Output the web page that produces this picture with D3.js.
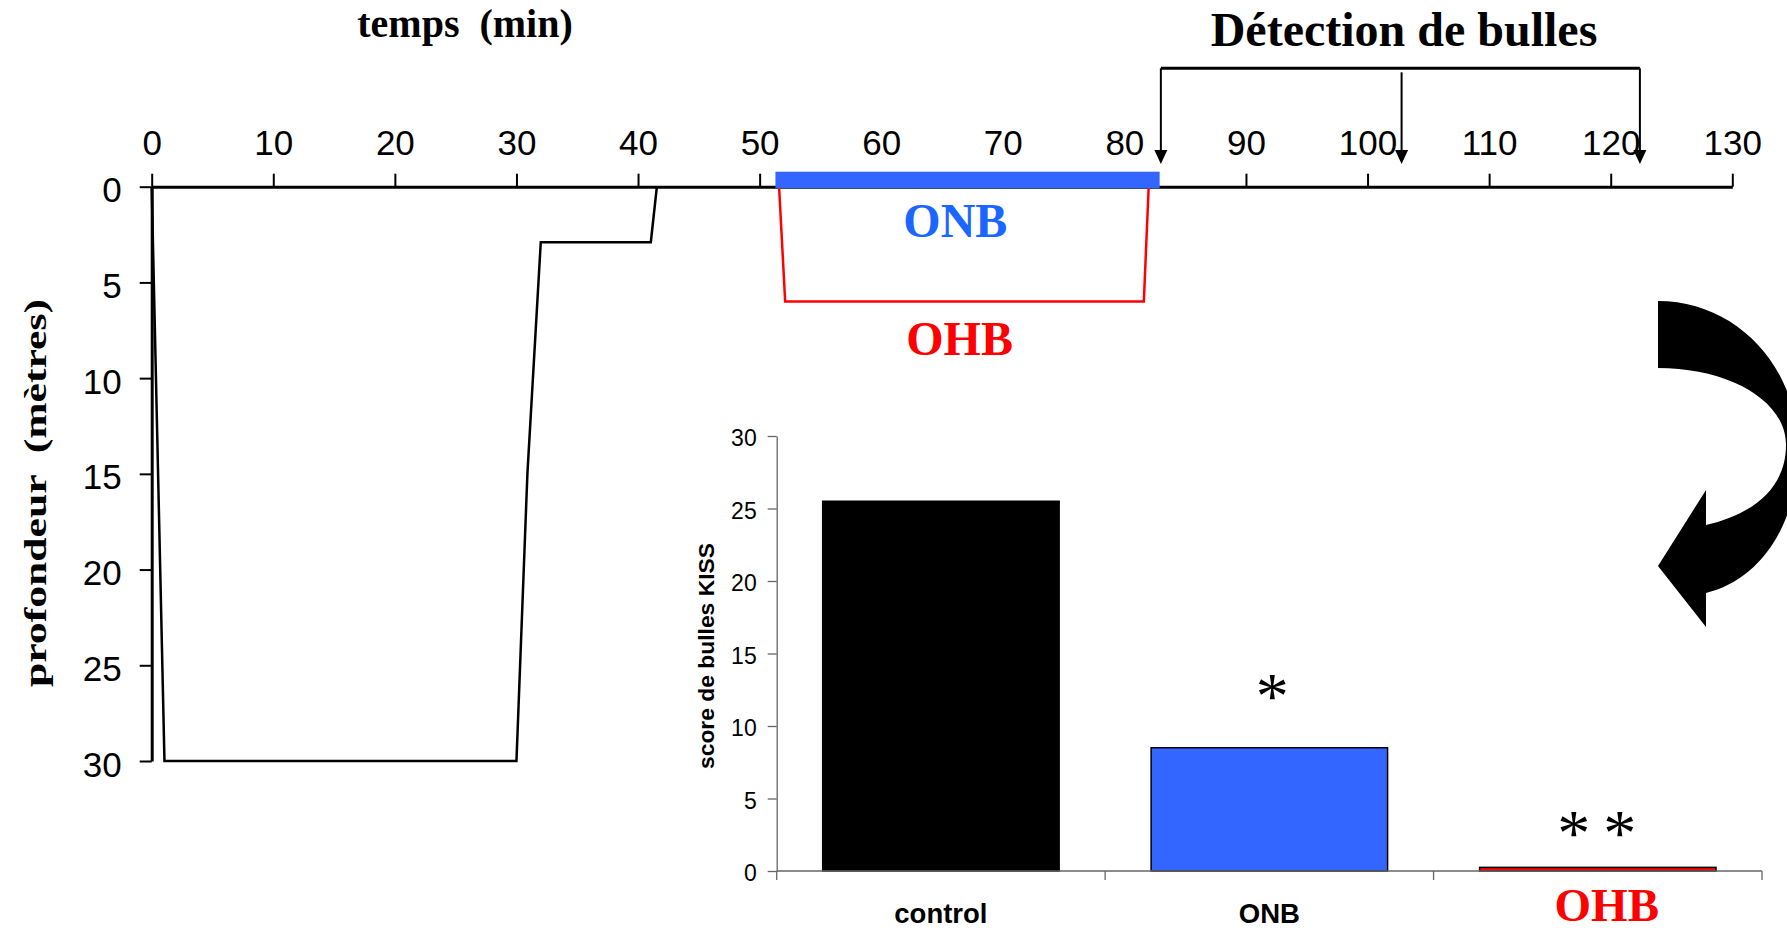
<!DOCTYPE html>
<html>
<head>
<meta charset="utf-8">
<script src="https://cdn.jsdelivr.net/npm/d3@7"></script>
<style>
  body { margin: 0; background: #fff; overflow: hidden; }
  svg { display: block; }
  .sans { font-family: "Liberation Sans", Arial, sans-serif; }
  .serif { font-family: "Liberation Serif", "Times New Roman", serif; font-weight: bold; }
</style>
</head>
<body>
<div id="chart"></div>
<script>
// profil de plongée : temps (min) / profondeur (m)
const diveTime = [0, 1.05, 30, 30.9, 32, 41.05, 41.55];
const diveDepth = [0, 30, 30, 15, 2.9, 2.9, 0];

// oxygène hyperbare (OHB) : profil en caisson
const ohbTime = [51.6, 52.1, 81.6, 82.0];
const ohbDepth = [0, 6, 6, 0];

// oxygène normobare (ONB) : période en surface
const onbPeriod = [51.3, 82.9];

// moments de détection de bulles
const detectionTimes = [83, 102.8, 122.4];

const timeTicks = [0, 10, 20, 30, 40, 50, 60, 70, 80, 90, 100, 110, 120, 130];
const depthTicks = [0, 5, 10, 15, 20, 25, 30];

// score de bulles KISS
const groups = ["control", "ONB", "OHB"];
const kissScore = [25.5, 8.5, 0.25];
const starCount = [0, 1, 2];
const starLevel = [null, 12.8, 3.4];
const scoreTicks = [0, 5, 10, 15, 20, 25, 30];

const width = 1787;
const height = 932;

const svg = d3.select("#chart").append("svg")
  .attr("width", width)
  .attr("height", height);

// ---------- profil de plongée ----------
const x = d3.scaleLinear().domain([0, 130]).range([151.7, 1732.3]);
const y = d3.scaleLinear().domain([0, 30]).range([186.7, 761]);

const xAxis = svg.append("g")
  .attr("class", "sans")
  .attr("transform", `translate(0,${y(0)})`)
  .call(d3.axisTop(x).tickValues(timeTicks).tickSize(13).tickSizeOuter(0).tickPadding(19));

const yAxis = svg.append("g")
  .attr("class", "sans")
  .attr("transform", `translate(${x(0)},0)`)
  .call(d3.axisLeft(y).tickValues(depthTicks).tickSize(12).tickSizeOuter(0).tickPadding(18));

[xAxis, yAxis].forEach((g) => {
  g.select(".domain").attr("stroke", "#000").attr("stroke-width", 3);
  g.selectAll(".tick line").attr("stroke", "#000").attr("stroke-width", 2);
  g.selectAll(".tick text")
    .attr("fill", "#000")
    .style("font-family", "'Liberation Sans', Arial, sans-serif")
    .style("font-size", "35px");
});
yAxis.selectAll(".tick text").attr("dy", "0.43em");

const line = d3.line()
  .x((d) => x(d[0]))
  .y((d) => y(d[1]));

svg.append("path")
  .datum(d3.zip(diveTime, diveDepth))
  .attr("d", line)
  .attr("fill", "none")
  .attr("stroke", "#000")
  .attr("stroke-width", 2.5)
  .attr("stroke-linejoin", "miter");

svg.append("path")
  .datum(d3.zip(ohbTime, ohbDepth))
  .attr("d", line)
  .attr("fill", "none")
  .attr("stroke", "#FF0000")
  .attr("stroke-width", 2.5);

svg.append("rect")
  .attr("x", x(onbPeriod[0]))
  .attr("y", y(0) - 15)
  .attr("width", x(onbPeriod[1]) - x(onbPeriod[0]))
  .attr("height", 16.6)
  .attr("fill", "#3366FF");

svg.append("text")
  .attr("class", "serif")
  .attr("x", x(66.1))
  .attr("y", 237)
  .attr("text-anchor", "middle")
  .style("font-size", "48px")
  .attr("fill", "#1a66ff")
  .text("ONB");

svg.append("text")
  .attr("class", "serif")
  .attr("x", x(66.45))
  .attr("y", 355)
  .attr("text-anchor", "middle")
  .style("font-size", "48px")
  .attr("fill", "#FF0000")
  .text("OHB");

// titres
svg.append("text")
  .attr("class", "serif")
  .attr("x", 465)
  .attr("y", 37)
  .attr("text-anchor", "middle")
  .style("font-size", "40px")
  .style("white-space", "pre")
  .text("temps  (min)");

svg.append("text")
  .attr("class", "serif")
  .attr("transform", "translate(45.5,493) rotate(-90)")
  .attr("text-anchor", "middle")
  .style("font-size", "32px")
  .style("white-space", "pre")
  .attr("textLength", 388)
  .attr("lengthAdjust", "spacingAndGlyphs")
  .text("profondeur  (mètres)");

svg.append("text")
  .attr("class", "serif")
  .attr("x", 1404)
  .attr("y", 46)
  .attr("text-anchor", "middle")
  .style("font-size", "48px")
  .text("Détection de bulles");

// accolade de détection + flèches
const bracketY = 68.3;
const tipY = 164;
const headLen = 14;

svg.append("line")
  .attr("x1", x(detectionTimes[0]))
  .attr("x2", x(detectionTimes[detectionTimes.length - 1]))
  .attr("y1", bracketY)
  .attr("y2", bracketY)
  .attr("stroke", "#000")
  .attr("stroke-width", 3);

const arrows = svg.append("g").selectAll("g")
  .data(detectionTimes)
  .join("g");

arrows.append("line")
  .attr("x1", (d) => x(d))
  .attr("x2", (d) => x(d))
  .attr("y1", (d, i) => (i === 1 ? bracketY + 4 : bracketY))
  .attr("y2", tipY - headLen + 1)
  .attr("stroke", "#000")
  .attr("stroke-width", 2);

arrows.append("path")
  .attr("d", (d) => `M${x(d) - 6.5},${tipY - headLen}L${x(d) + 6.5},${tipY - headLen}L${x(d)},${tipY}Z`)
  .attr("fill", "#000");

// grosse flèche courbe
svg.append("path")
  .attr("transform", "translate(1658,301)")
  .attr("d", "M0,0C77,0 140,64 140,149C140,224 102,279 48,292L48,326L0,265L48,189L48,224C92,214 128,189 128,144C128,99 70,67 0,67Z")
  .attr("fill", "#000");

// ---------- score de bulles KISS ----------
const xb = d3.scaleBand()
  .domain(groups)
  .range([776.7, 1762])
  .paddingInner(0.28)
  .paddingOuter(0.14);

const yb = d3.scaleLinear().domain([0, 30]).range([871, 436]);

const fills = { control: "#000000", ONB: "#3366FF", OHB: "#FF0000" };

svg.append("g")
  .selectAll("rect")
  .data(groups)
  .join("rect")
  .attr("x", (d) => xb(d))
  .attr("width", xb.bandwidth())
  .attr("y", (d, i) => yb(kissScore[i]))
  .attr("height", (d, i) => yb(0) - yb(kissScore[i]))
  .attr("fill", (d) => fills[d])
  .attr("stroke", "#000")
  .attr("stroke-width", 1.5);

const ybAxis = svg.append("g")
  .attr("transform", `translate(${xb.range()[0]},0)`)
  .call(d3.axisLeft(yb).tickValues(scoreTicks).tickSize(9).tickSizeOuter(0).tickPadding(11));

ybAxis.select(".domain").attr("stroke", "#666").attr("stroke-width", 1.3);
ybAxis.selectAll(".tick line").attr("stroke", "#666").attr("stroke-width", 1.3);
ybAxis.selectAll(".tick text")
  .attr("fill", "#000")
  .attr("dy", "0.43em")
  .style("font-family", "'Liberation Sans', Arial, sans-serif")
  .style("font-size", "23px");

// axe des catégories, graduations aux limites des classes
const step = xb.step();
const edges = groups.map((g) => xb(g) - (step - xb.bandwidth()) / 2).concat([xb.range()[1]]);

const xbAxis = svg.append("g");
xbAxis.append("line")
  .attr("x1", xb.range()[0])
  .attr("x2", xb.range()[1])
  .attr("y1", yb(0))
  .attr("y2", yb(0))
  .attr("stroke", "#666")
  .attr("stroke-width", 1.3);

xbAxis.selectAll(".edge")
  .data(edges)
  .join("line")
  .attr("class", "edge")
  .attr("x1", (d) => d)
  .attr("x2", (d) => d)
  .attr("y1", yb(0))
  .attr("y2", yb(0) + 9)
  .attr("stroke", "#666")
  .attr("stroke-width", 1.3);

xbAxis.selectAll(".cat")
  .data(groups)
  .join("text")
  .attr("class", (d) => (d === "OHB" ? "cat serif" : "cat sans"))
  .attr("x", (d) => xb(d) + xb.bandwidth() / 2 + (d === "OHB" ? 9 : 0))
  .attr("y", (d) => (d === "OHB" ? 921 : 923))
  .attr("text-anchor", "middle")
  .style("font-size", (d) => (d === "OHB" ? "47px" : "27.5px"))
  .style("font-weight", "bold")
  .attr("fill", (d) => (d === "OHB" ? "#FF0000" : "#000"))
  .text((d) => d);

svg.append("text")
  .attr("class", "sans")
  .attr("transform", "translate(714,656) rotate(-90)")
  .attr("text-anchor", "middle")
  .style("font-size", "22px")
  .style("font-weight", "bold")
  .attr("textLength", 226)
  .attr("lengthAdjust", "spacingAndGlyphs")
  .text("score de bulles KISS");

// astérisques de significativité
const starSize = 66;
groups.forEach((g, i) => {
  const n = starCount[i];
  if (!n) return;
  const cx = xb(g) + xb.bandwidth() / 2 + (n > 1 ? -1 : 3);
  d3.range(n).forEach((j) => {
    svg.append("text")
      .attr("class", "serif")
      .attr("x", cx + (j - (n - 1) / 2) * 46)
      .attr("y", yb(starLevel[i]) + starSize * 0.5)
      .attr("text-anchor", "middle")
      .style("font-size", `${starSize}px`)
      .style("font-weight", "normal")
      .text("*");
  });
});
</script>
</body>
</html>
